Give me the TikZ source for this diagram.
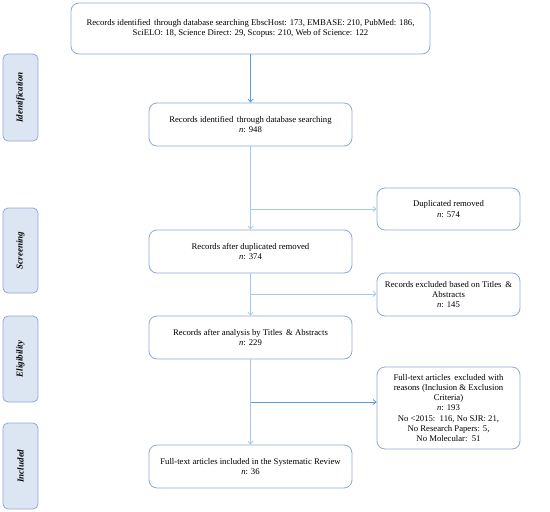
\documentclass[tikz,border=0pt]{standalone}
\usepackage{fontspec}
\setmainfont{Liberation Serif}
\begin{document}
\begin{tikzpicture}[x=1pt,y=-1pt,
  box/.style={draw=boxline, line width=0.8pt, rounded corners=8pt, align=center,
    inner sep=2pt, font=\fontsize{8.7}{10.2}\selectfont, fill=white},
  sidebox/.style={draw=boxline, line width=0.8pt, rounded corners=5pt, fill=sidefill,
    minimum width=35pt, inner sep=0pt},
  sidelabel/.style={rotate=90, font=\fontsize{9}{10}\selectfont\bfseries\itshape},
  flow/.style={draw=lightarrow, line width=0.8pt},
  flowarrow/.style={flow, ->, >={Straight Barb[length=3pt,width=5pt]}},
  darkarrow/.style={draw=darkarrow, line width=0.8pt, ->, >={Straight Barb[length=3pt,width=5pt]}}
]
\definecolor{boxline}{HTML}{8FAAD3}
\definecolor{sidefill}{HTML}{DCE6F2}
\definecolor{lightarrow}{HTML}{A9C9EC}
\definecolor{darkarrow}{HTML}{5B9BD5}
\usetikzlibrary{arrows.meta}
\useasboundingbox (0,0) rectangle (550,512);

% side boxes
\node[sidebox, minimum height=87pt] (sid) at (20.5,97.5) {};
\node[sidelabel] (lid) at (sid.center) {Identification};
\node[sidebox, minimum height=85pt] (ssc) at (20.5,250.5) {};
\node[sidelabel] (lsc) at (ssc.center) {Screening};
\node[sidebox, minimum height=86pt] (sel) at (20.5,359) {};
\node[sidelabel] (lel) at (sel.center) {Eligibility};
\node[sidebox, minimum height=86pt] (sin) at (20.5,466) {};
\node[sidelabel] (lin) at (sin.center) {Included};

% main boxes
\node[box, minimum width=359pt, minimum height=51pt] (top) at (250.5,28.5)
  {Records identified\, through database searching EbscHost: 173, EMBASE: 210, PubMed: 186,\\
   SciELO: 18, Science Direct: 29, Scopus: 210, Web of Science: 122};
\node[box, minimum width=203pt, minimum height=43pt] (b2) at (250.5,124.5)
  {Records identified\, through database searching\\ \textit{n}: 948};
\node[box, minimum width=203pt, minimum height=43pt] (b3) at (250.5,251.5)
  {Records after duplicated removed\\ \textit{n}: 374};
\node[box, minimum width=203pt, minimum height=43pt] (b4) at (250.5,337.5)
  {Records after analysis by Titles\, \& Abstracts\\ \textit{n}: 229};
\node[box, minimum width=203pt, minimum height=43pt] (b5) at (250.5,466.5)
  {Full-text articles included in the Systematic Review\\ \textit{n}: 36};

% right boxes
\node[box, minimum width=143pt, minimum height=42pt] (dup) at (448.5,209)
  {Duplicated removed\\ \textit{n}: 574};
\node[box, minimum width=143pt, minimum height=43pt] (exc) at (448.5,294.5)
  {Records excluded based on Titles\, \&\\ Abstracts\\ \textit{n}: 145};
\node[box, minimum width=143pt, minimum height=82pt] (ful) at (448.5,408)
  {Full-text articles\, excluded with\\ reasons (Inclusion \& Exclusion\\ Criteria)\\ \textit{n}: 193\\
   No <2015:\, 116, No SJR: 21,\\ No Research Papers: 5,\\ No Molecular:\, 51};

% connectors
\coordinate (j1) at (250.5,209);
\coordinate (j2) at (250.5,294);
\coordinate (j3) at (250.5,402);
\draw[darkarrow] (top) -- (b2);
\draw[flowarrow] (b2) -- (b3);
\draw[flowarrow] (b3) -- (b4);
\draw[flowarrow] (b4) -- (b5);
\draw[flowarrow] (j1) -- (j1 -| dup.west);
\draw[flowarrow] (j2) -- (j2 -| exc.west);
\draw[darkarrow] (j3) -- (j3 -| ful.west);
\end{tikzpicture}
\end{document}
